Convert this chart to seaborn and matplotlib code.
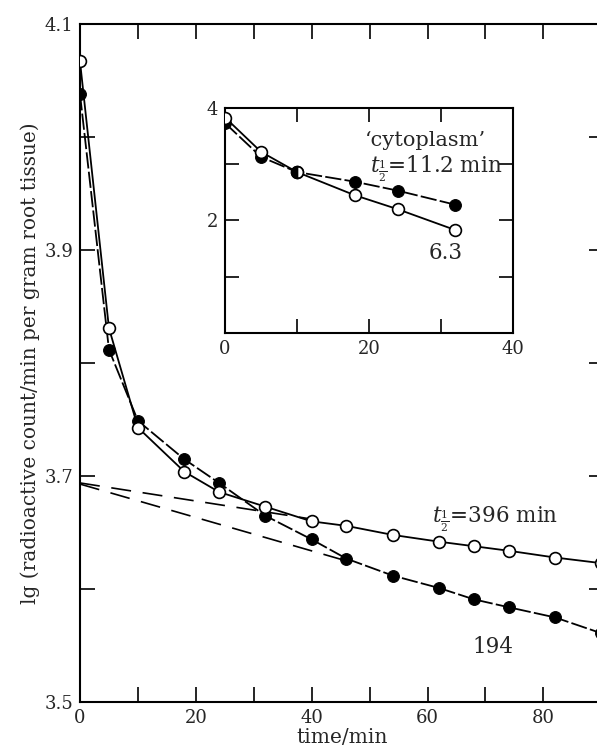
import numpy as np
import pandas as pd
import seaborn as sns
import matplotlib.pyplot as plt

# ---- datos ----
# curva principal (lg cuentas/min por gramo de raiz)
tiempo = [0, 5, 10, 18, 24, 32, 40, 46, 54, 62, 68, 74, 82, 90]
abiertos = [4.067, 3.831, 3.743, 3.704, 3.686, 3.673, 3.660, 3.656,
            3.648, 3.642, 3.638, 3.634, 3.628, 3.623]
llenos = [4.038, 3.812, 3.749, 3.715, 3.694, 3.665, 3.644, 3.627,
          3.612, 3.601, 3.591, 3.584, 3.575, 3.561]

# rectas extrapoladas (componente lenta)
recta_396_x = [0, 40]
recta_396_y = [3.694, 3.662]
recta_194_x = [0, 46]
recta_194_y = [3.693, 3.625]

# inserto 'cytoplasm'
tiempo_ins = [0, 5, 10, 18, 24, 32]
abiertos_ins = [3.83, 3.22, 2.86, 2.45, 2.20, 1.83]
llenos_ins = [3.73, 3.13, 2.86, 2.69, 2.53, 2.28]

xticks_main = [0, 10, 20, 30, 40, 50, 60, 70, 80, 90]
xlabels_main = ['0', '', '20', '', '40', '', '60', '', '80', '']
yticks_main = [3.5, 3.6, 3.7, 3.8, 3.9, 4.0, 4.1]
ylabels_main = ['3.5', '', '3.7', '', '3.9', '', '4.1']
xticks_ins = [0, 10, 20, 30, 40]
xlabels_ins = ['0', '', '20', '', '40']
yticks_ins = [0, 1, 2, 3, 4]
ylabels_ins = ['', '', '2', '', '4']

df = pd.DataFrame({'t': tiempo, 'abierto': abiertos, 'lleno': llenos})
df_ins = pd.DataFrame({'t': tiempo_ins, 'abierto': abiertos_ins, 'lleno': llenos_ins})

sns.set_style('ticks')
plt.rcParams['font.family'] = ['DejaVu Serif']
plt.rcParams['mathtext.fontset'] = 'dejavuserif'

fig = plt.figure(figsize=(5.97, 7.55), dpi=100)
ax = fig.add_axes([0.134, 0.070, 0.878, 0.898])
ins = fig.add_axes([0.377, 0.559, 0.482, 0.298])

lw = 1.3
ms = 8.5
guion_lleno = (0, (9, 1.8))
guion_recta = (0, (12, 7))
fs_txt = 15.5

# rectas discontinuas
sns.lineplot(x=recta_396_x, y=recta_396_y, ax=ax, color='black', lw=1.2,
             linestyle=guion_recta, estimator=None, zorder=2)
sns.lineplot(x=recta_194_x, y=recta_194_y, ax=ax, color='black', lw=1.2,
             linestyle=guion_recta, estimator=None, zorder=2)

# serie llena
sns.lineplot(data=df, x='t', y='lleno', ax=ax, color='black', lw=lw,
             linestyle=guion_lleno, marker='o', markersize=ms,
             markerfacecolor='black', markeredgecolor='black',
             estimator=None, zorder=3)
# serie abierta
sns.lineplot(data=df, x='t', y='abierto', ax=ax, color='black', lw=lw,
             marker='o', markersize=ms, markerfacecolor='white',
             markeredgecolor='black', markeredgewidth=1.2,
             estimator=None, zorder=4)

ax.set_xlim(0, 90.5)
ax.set_ylim(3.5, 4.1)
ax.set_xticks(xticks_main)
ax.set_xticklabels(xlabels_main)
ax.set_yticks(yticks_main)
ax.set_yticklabels(ylabels_main)
ax.tick_params(direction='in', length=11, width=1.2, top=True, right=True,
               labelsize=13, pad=5, color='black')
for s in ax.spines.values():
    s.set_linewidth(1.5)
    s.set_color('black')
ax.set_xlabel('time/min', fontsize=14.5, labelpad=1)
ax.set_ylabel('lg (radioactive count/min per gram root tissue)', fontsize=14.5,
              labelpad=3)

ax.text(60.7, 3.662, r'$t_{\frac{1}{2}}$=396 min', fontsize=fs_txt,
        va='center', ha='left')
ax.text(71.3, 3.549, '194', fontsize=fs_txt, va='center', ha='center')

# ---- inserto ----
sns.lineplot(data=df_ins, x='t', y='lleno', ax=ins, color='black', lw=lw,
             linestyle=guion_lleno, marker='o', markersize=ms,
             markerfacecolor='black', markeredgecolor='black',
             estimator=None, zorder=3)
sns.lineplot(data=df_ins, x='t', y='abierto', ax=ins, color='black', lw=lw,
             marker='o', markersize=ms, markerfacecolor='white',
             markeredgecolor='black', markeredgewidth=1.2,
             estimator=None, zorder=4)
# punto compartido medio lleno
ins.plot(tiempo_ins[2], llenos_ins[2], marker='o', markersize=ms,
         fillstyle='left', markerfacecolor='black',
         markerfacecoloralt='white', markeredgecolor='black',
         markeredgewidth=1.2, zorder=5)

ins.set_xlim(0, 40)
ins.set_ylim(0, 4)
ins.set_xticks(xticks_ins)
ins.set_xticklabels(xlabels_ins)
ins.set_yticks(yticks_ins)
ins.set_yticklabels(ylabels_ins)
ins.tick_params(direction='in', length=10, width=1.2, top=True, right=True,
                labelsize=13, pad=5, color='black')
for s in ins.spines.values():
    s.set_linewidth(1.5)
    s.set_color('black')
ins.set_xlabel('')
ins.set_ylabel('')
ins.set_facecolor('white')

ins.text(19.4, 3.42, '\u2018cytoplasm\u2019', fontsize=fs_txt - 0.5,
         va='center', ha='left')
ins.text(20.2, 2.92, r'$t_{\frac{1}{2}}$=11.2 min', fontsize=fs_txt,
         va='center', ha='left')
ins.text(30.6, 1.42, '6.3', fontsize=fs_txt, va='center', ha='center')

fig.savefig('out.png', dpi=100)
